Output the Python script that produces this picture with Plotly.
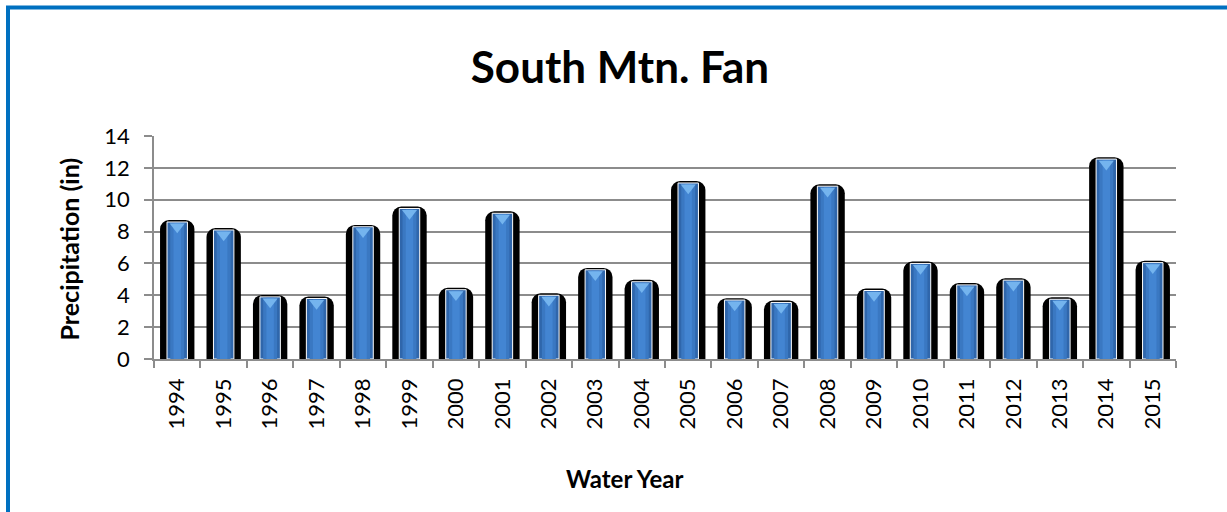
import plotly.graph_objects as go

years = [str(y) for y in range(1994, 2016)]
precip = [8.6, 8.1, 3.9, 3.8, 8.3, 9.45, 4.35, 9.15, 4.0, 5.6, 4.85, 11.05,
          3.7, 3.55, 10.85, 4.3, 6.0, 4.65, 4.95, 3.75, 12.55, 6.05]

W, H = 1227, 512
ML, MR, MT, MB = 154, 51, 136, 153
PW, PH = W - ML - MR, H - MT - MB


def px(x):
    return (x - ML) / PW


def py(y):
    return (H - MB - y) / PH


FONT = "Lato"
fig = go.Figure()

# black backing (shadow) of each bar
fig.add_trace(go.Bar(
    x=years, y=[v + 0.12 for v in precip], width=0.74,
    marker=dict(color="black", line=dict(width=0), cornerradius=9),
    hoverinfo="skip", showlegend=False))
# blue body
fig.add_trace(go.Bar(
    x=years, y=precip, width=0.44,
    marker=dict(color="#2f66ab", line=dict(color="white", width=1), cornerradius=2),
    showlegend=False, name="Precipitation"))
# lighter centre for gradient look
fig.add_trace(go.Bar(
    x=years, y=[v - 0.06 for v in precip], width=0.30,
    marker=dict(color="#3a78c2", line=dict(width=0)),
    hoverinfo="skip", showlegend=False))
fig.add_trace(go.Bar(
    x=years, y=[v - 0.06 for v in precip], width=0.16,
    marker=dict(color="#4385d2", line=dict(width=0)),
    hoverinfo="skip", showlegend=False))
# light triangle highlight at top of each bar
fig.add_trace(go.Scatter(
    x=years, y=[v - 0.3 for v in precip], mode="markers",
    marker=dict(symbol="triangle-down", size=13, color="#74b4ee", line=dict(width=0)),
    hoverinfo="skip", showlegend=False))

fig.update_layout(
    width=W, height=H,
    margin=dict(l=ML, r=MR, t=MT, b=MB),
    paper_bgcolor="white", plot_bgcolor="white",
    barmode="overlay",
    font=dict(family=FONT, color="black"),
    title=dict(text="<b>South Mtn. Fan</b>", x=620 / W, xref="container",
               xanchor="center", y=1 - 68 / H, yref="container", yanchor="middle",
               font=dict(family=FONT, size=44, color="black")),
    xaxis=dict(type="category", range=[-0.5, len(years) - 0.5],
               tickson="boundaries", ticks="outside", ticklen=7,
               tickcolor="#8c8c8c", tickwidth=1.5, showline=True, linecolor="#8c8c8c",
               linewidth=1.5, showgrid=False, tickangle=-90,
               tickfont=dict(family=FONT, size=22, color="black"),
               ticklabelstandoff=9),
    yaxis=dict(range=[0, 14], dtick=2, showgrid=True, gridcolor="#8c8c8c", gridwidth=1.5,
               ticks="outside", ticklen=8, tickcolor="#8c8c8c", tickwidth=1.5,
               showline=True, linecolor="#8c8c8c", linewidth=1.5, zeroline=False,
               tickfont=dict(family=FONT, size=22, color="black"),
               ticklabelstandoff=10),
    shapes=[dict(type="rect", xref="paper", yref="paper",
                 x0=px(8), x1=px(W + 40), y0=py(H + 40), y1=py(7.5),
                 line=dict(color="#0070c0", width=4), fillcolor="rgba(0,0,0,0)",
                 layer="above")],
    annotations=[
        dict(text="<b>Precipitation (in)</b>", xref="paper", yref="paper",
             x=px(68), y=py(249.5), xanchor="center", yanchor="middle",
             textangle=-90, showarrow=False,
             font=dict(family=FONT, size=25, color="black")),
        dict(text="<b>Water Year</b>", xref="paper", yref="paper",
             x=px(625), y=py(478), xanchor="center", yanchor="middle",
             showarrow=False, font=dict(family=FONT, size=24, color="black")),
    ],
)

fig.write_html("out.html", config={"displayModeBar": False},
               post_script="document.body.style.margin='0';")
